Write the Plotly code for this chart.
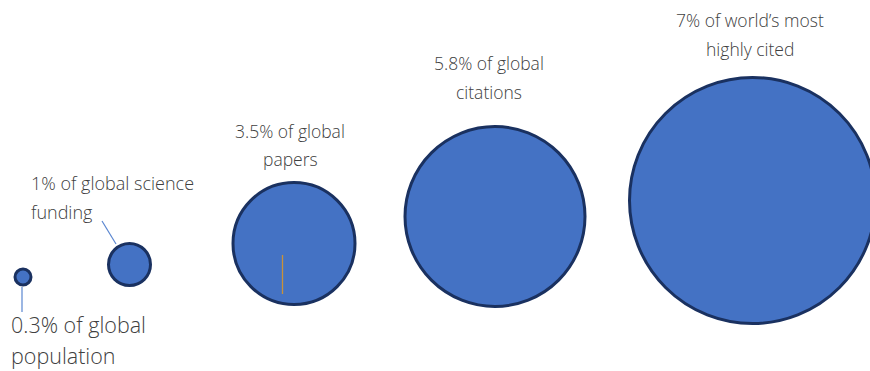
import plotly.graph_objects as go

# Data
labels = [
    ["0.3% of global", "population"],
    ["1% of global science", "funding"],
    ["3.5% of global", "papers"],
    ["5.8% of global", "citations"],
    ["7% of world\u2019s most", "highly cited"],
]
shares = [0.3, 1.0, 3.5, 5.8, 7.0]
bubble_diameter = [16, 42, 122, 180, 246]

# Layout positions (pixel-like coordinates)
cx = [23, 129.5, 294, 495, 752.5]
cy = [277, 264.5, 243.5, 216.5, 200.5]

FILL = "#4472C4"
EDGE = "#1A3160"
TEXT = "#404040"
FONT = "Open Sans"

fig = go.Figure()
fig.add_trace(go.Scatter(
    x=cx, y=cy, mode="markers",
    marker=dict(size=bubble_diameter, sizemode="diameter", color=FILL,
                line=dict(color=EDGE, width=3), opacity=1),
    customdata=shares, hoverinfo="skip", showlegend=False,
))

# label line positions
label_specs = [
    dict(x=9, ys=[324, 355], size=21.5, anchor="left"),
    dict(x=29, ys=[183, 212], size=18, anchor="left"),
    dict(x=290, ys=[131, 159], size=17.5, anchor="center"),
    dict(x=489, ys=[63, 92], size=17.5, anchor="center"),
    dict(x=750, ys=[20, 49], size=17.5, anchor="center"),
]
for lab, spec in zip(labels, label_specs):
    for line, y in zip(lab, spec["ys"]):
        fig.add_annotation(x=spec["x"], y=y, text=line, showarrow=False,
                           xanchor=spec["anchor"], yanchor="middle",
                           font=dict(family=FONT, size=spec["size"], color=TEXT, weight=300))

# leader lines
fig.add_shape(type="line", x0=22, y0=287, x1=22, y1=312,
              line=dict(color="#5A86D0", width=1.2))
fig.add_shape(type="line", x0=116, y0=244, x1=102, y1=221,
              line=dict(color="#5A86D0", width=1.2))
# small orange mark inside the papers bubble
fig.add_shape(type="line", x0=282.5, y0=255, x1=282.5, y1=294,
              line=dict(color="#C8913B", width=1.3), layer="above")

fig.update_layout(
    width=870, height=371,
    margin=dict(l=0, r=0, t=0, b=0),
    paper_bgcolor="white", plot_bgcolor="white",
    xaxis=dict(range=[0, 870], visible=False, fixedrange=True),
    yaxis=dict(range=[371, 0], visible=False, fixedrange=True),
)
fig.write_html("out.html")
